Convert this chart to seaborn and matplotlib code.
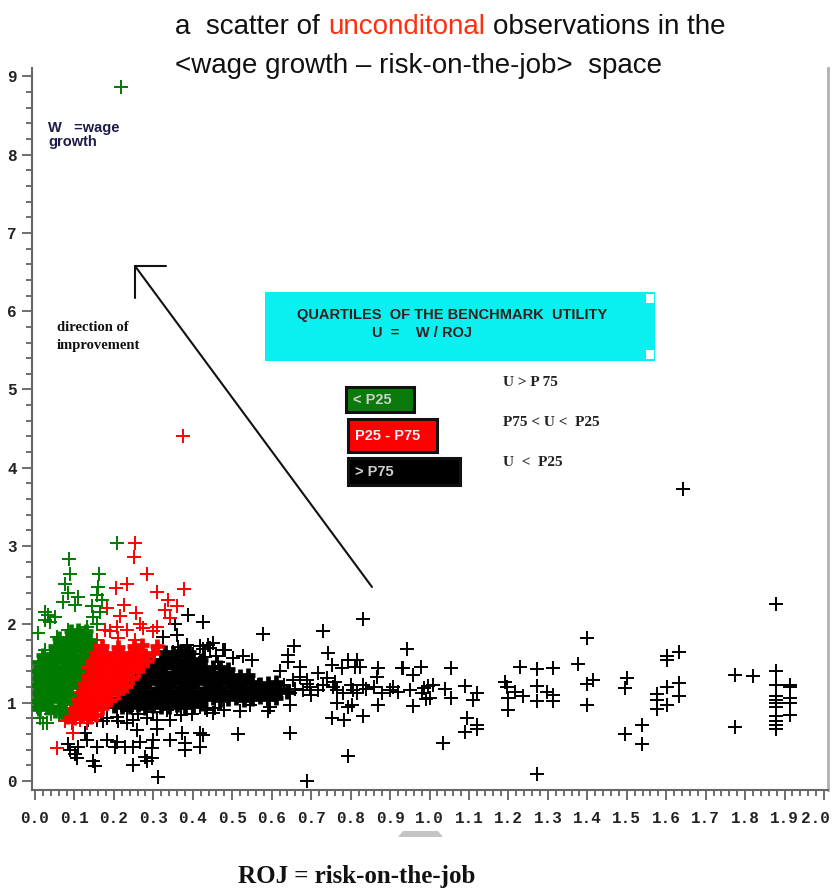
import matplotlib
matplotlib.use('Agg')
import matplotlib.pyplot as plt
import matplotlib.transforms as mtransforms
from matplotlib.patches import Rectangle, Polygon
from matplotlib.lines import Line2D
from matplotlib.ticker import MultipleLocator, FormatStrFormatter
import seaborn as sns

# ---- data (ROJ on x, wage growth on y) ----
# dense part of the U > P75 group (green)
green_core_roj = [0.01, 0.03, 0.05, 0.065,
                  0.0, 0.02, 0.04, 0.06, 0.075,
                  0.01, 0.03, 0.05, 0.07, 0.085,
                  0.0, 0.02, 0.04, 0.06, 0.08, 0.092,
                  0.01, 0.03, 0.05, 0.07, 0.09, 0.10,
                  0.0, 0.02, 0.04, 0.06, 0.08, 0.10, 0.108,
                  0.01, 0.03, 0.05, 0.07, 0.09, 0.11,
                  0.02, 0.04, 0.06, 0.08, 0.10, 0.12,
                  0.05, 0.07, 0.09, 0.11, 0.13,
                  0.06, 0.08, 0.10, 0.12, 0.14,
                  0.09, 0.11, 0.13]
green_core_wage = [0.92, 0.93, 0.90, 0.88,
                   1.02, 1.01, 1.03, 1.02, 1.00,
                   1.12, 1.13, 1.11, 1.12, 1.10,
                   1.22, 1.21, 1.23, 1.22, 1.21, 1.20,
                   1.32, 1.33, 1.31, 1.32, 1.33, 1.30,
                   1.41, 1.42, 1.43, 1.41, 1.42, 1.43, 1.40,
                   1.52, 1.51, 1.53, 1.52, 1.51, 1.52,
                   1.61, 1.62, 1.63, 1.62, 1.61, 1.60,
                   1.72, 1.71, 1.73, 1.72, 1.70,
                   1.82, 1.81, 1.83, 1.82, 1.80,
                   1.92, 1.93, 1.91]
green_roj = [0.218, 0.207, 0.087, 0.089, 0.163, 0.076, 0.160, 0.156, 0.110, 0.084,
             0.072, 0.101, 0.144, 0.169, 0.165, 0.148, 0.025, 0.034, 0.051, 0.025,
             0.038, 0.008, 0.055, 0.084, 0.114, 0.131, 0.156, 0.025, 0.038, 0.013,
             0.030, 0.021, 0.04, 0.06, 0.005]
green_wage = [8.86, 3.04, 2.84, 2.65, 2.65, 2.52, 2.48, 2.38, 2.35, 2.40,
              2.29, 2.25, 2.23, 2.31, 2.16, 2.10, 2.16, 2.12, 2.10, 2.06,
              2.03, 1.89, 1.84, 1.93, 1.84, 1.97, 2.01, 1.67, 1.59, 0.80,
              0.74, 0.74, 0.86, 0.85, 0.95]

# P25 - P75 group (red)
red_core_roj = [0.08, 0.10, 0.12, 0.14, 0.155,
                0.09, 0.11, 0.13, 0.15, 0.17,
                0.10, 0.12, 0.14, 0.16, 0.18, 0.19,
                0.11, 0.13, 0.15, 0.17, 0.19, 0.21,
                0.108, 0.12, 0.14, 0.16, 0.18, 0.20, 0.22, 0.23,
                0.11, 0.13, 0.15, 0.17, 0.19, 0.21, 0.23, 0.245,
                0.12, 0.14, 0.16, 0.18, 0.20, 0.22, 0.24, 0.26,
                0.13, 0.15, 0.17, 0.19, 0.21, 0.23, 0.25, 0.27, 0.283,
                0.14, 0.16, 0.18, 0.20, 0.22, 0.24, 0.26, 0.28, 0.30,
                0.15, 0.17, 0.21, 0.25, 0.27, 0.31]
red_core_wage = [0.82, 0.81, 0.83, 0.82, 0.84,
                 0.92, 0.91, 0.93, 0.92, 0.93,
                 1.02, 1.01, 1.03, 1.02, 1.01, 1.03,
                 1.12, 1.11, 1.13, 1.12, 1.11, 1.13,
                 1.22, 1.21, 1.23, 1.22, 1.21, 1.23, 1.22, 1.21,
                 1.32, 1.31, 1.33, 1.32, 1.31, 1.33, 1.32, 1.31,
                 1.42, 1.41, 1.43, 1.42, 1.41, 1.43, 1.42, 1.41,
                 1.52, 1.51, 1.53, 1.52, 1.51, 1.53, 1.52, 1.51, 1.53,
                 1.62, 1.61, 1.63, 1.62, 1.61, 1.63, 1.62, 1.61, 1.63,
                 1.72, 1.73, 1.71, 1.72, 1.74, 1.72]
red_roj = [0.375, 0.253, 0.251, 0.283, 0.232, 0.205, 0.308, 0.378, 0.226, 0.182,
           0.215, 0.256, 0.338, 0.359, 0.330, 0.342, 0.308, 0.266, 0.300, 0.275,
           0.177, 0.207, 0.232, 0.156, 0.211, 0.253, 0.190, 0.055, 0.097, 0.076,
           0.093, 0.114, 0.131]
red_wage = [4.41, 3.04, 2.86, 2.65, 2.52, 2.47, 2.42, 2.45, 2.25, 2.21,
            2.11, 2.14, 2.31, 2.23, 2.18, 2.08, 1.97, 2.01, 1.91, 1.95,
            1.93, 1.97, 1.93, 1.80, 1.82, 1.80, 1.91, 0.42, 0.61, 0.76,
            0.74, 0.78, 0.74]

# U < P25 group (black)
black_core_roj = [0.20, 0.22, 0.24, 0.26, 0.28, 0.30, 0.32, 0.34, 0.36, 0.38, 0.40, 0.42,
                  0.21, 0.23, 0.25, 0.27, 0.29, 0.31, 0.33, 0.35, 0.37, 0.39, 0.41,
                  0.43, 0.45, 0.47, 0.49, 0.51, 0.53, 0.55, 0.57, 0.59, 0.61,
                  0.22, 0.24, 0.26, 0.28, 0.30, 0.32, 0.34, 0.36, 0.38, 0.40, 0.42,
                  0.44, 0.46, 0.48, 0.50, 0.52, 0.54, 0.56, 0.58, 0.60, 0.62, 0.64,
                  0.25, 0.27, 0.29, 0.31, 0.33, 0.35, 0.37, 0.39, 0.41, 0.43,
                  0.45, 0.47, 0.49, 0.51, 0.53, 0.55, 0.57, 0.59, 0.61,
                  0.26, 0.28, 0.30, 0.32, 0.34, 0.36, 0.38, 0.40,
                  0.42, 0.44, 0.46, 0.48, 0.50, 0.52, 0.54,
                  0.29, 0.31, 0.33, 0.35, 0.37, 0.39, 0.41, 0.43, 0.45, 0.47, 0.49,
                  0.30, 0.32, 0.34, 0.36, 0.38, 0.40, 0.42,
                  0.33, 0.35, 0.37, 0.39]
black_core_wage = [0.96, 0.94, 0.95, 0.97, 0.93, 0.96, 0.95, 0.94, 0.97, 0.95, 0.96, 0.98,
                   1.05, 1.04, 1.06, 1.05, 1.03, 1.06, 1.05, 1.04, 1.06, 1.05, 1.03,
                   1.05, 1.06, 1.04, 1.05, 1.06, 1.04, 1.05, 1.07, 1.05, 1.06,
                   1.15, 1.14, 1.16, 1.15, 1.13, 1.16, 1.15, 1.14, 1.16, 1.15, 1.13,
                   1.15, 1.16, 1.14, 1.15, 1.16, 1.14, 1.15, 1.17, 1.15, 1.16, 1.14,
                   1.25, 1.24, 1.26, 1.25, 1.23, 1.26, 1.25, 1.24, 1.26, 1.25,
                   1.23, 1.25, 1.26, 1.24, 1.25, 1.26, 1.24, 1.25, 1.27,
                   1.35, 1.34, 1.36, 1.35, 1.33, 1.36, 1.35, 1.34,
                   1.36, 1.35, 1.33, 1.35, 1.36, 1.34, 1.35,
                   1.45, 1.44, 1.46, 1.45, 1.43, 1.46, 1.45, 1.44, 1.46, 1.45, 1.43,
                   1.55, 1.54, 1.56, 1.55, 1.53, 1.56, 1.55,
                   1.65, 1.64, 1.66, 1.65]
black_roj = [0.944, 0.934, 0.959, 0.978, 0.957, 0.985, 0.995, 1.01, 0.99, 1.0,
             0.98, 1.033, 1.039, 1.054, 1.054, 1.09, 1.094, 1.09, 1.111, 1.121,
             1.121, 1.121, 1.191, 1.196, 1.2, 1.2, 1.217, 1.236, 1.229, 1.272,
             1.272, 1.272, 1.272, 1.297, 1.314, 1.314, 1.314, 1.377, 1.4, 1.4,
             1.414, 1.4, 1.5, 1.496, 1.496, 1.538, 1.538, 1.576, 1.576, 1.576,
             1.601, 1.601, 1.601, 1.601, 1.633, 1.633, 1.633, 1.643, 1.774, 1.774,
             1.821, 1.878, 1.878, 1.878, 1.878, 1.878, 1.878, 1.878, 1.878, 1.878,
             1.878, 1.878, 1.914, 1.914, 1.914, 1.914, 1.914,
             0.427, 0.579, 0.729, 0.831, 0.657, 0.743, 0.452, 0.427, 0.477, 0.503,
             0.528, 0.549, 0.465, 0.642, 0.642, 0.621, 0.752, 0.777, 0.794, 0.815,
             0.824, 0.811, 0.870, 0.866, 0.870, 0.930, 0.908, 0.9, 0.832, 0.807,
             0.815, 0.803, 0.794, 0.831, 0.752, 0.782, 0.765, 0.794, 0.689, 0.646,
             0.515, 0.427, 0.418, 0.646, 0.591, 0.545, 0.456, 0.431, 0.655, 0.672,
             0.680, 0.697, 0.718, 0.739, 0.756, 0.765, 0.718, 0.672, 0.689, 0.621,
             0.604, 0.646, 0.587, 0.596, 0.545, 0.566, 0.528, 0.63, 0.66, 0.69,
             0.70, 0.73, 0.76, 0.78, 0.80, 0.84, 0.86, 0.88, 0.92, 0.95,
             0.389, 0.359, 0.355, 0.363, 0.351, 0.385, 0.418, 0.439, 0.444, 0.482,
             0.325, 0.40, 0.43, 0.46, 0.38, 0.36,
             0.313, 0.248, 0.283, 0.296, 0.279, 0.152, 0.148, 0.106, 0.101, 0.089,
             0.084, 0.110, 0.131, 0.156, 0.127, 0.182, 0.203, 0.228, 0.249, 0.207,
             0.266, 0.296, 0.300, 0.342, 0.380, 0.380, 0.418, 0.372, 0.342, 0.308,
             0.283, 0.249, 0.232, 0.211, 0.182, 0.156, 0.135, 0.397, 0.435, 0.418,
             0.334, 0.359, 0.258, 0.308, 0.232, 0.173, 0.207, 0.26, 0.30, 0.37,
             0.45, 0.48, 0.52]
black_wage = [1.69, 1.44, 1.35, 1.45, 0.96, 1.19, 1.21, 1.22, 1.05, 1.06,
              1.12, 0.49, 1.18, 1.44, 1.06, 1.21, 0.81, 0.62, 1.03, 1.13,
              0.72, 0.66, 1.27, 1.20, 1.06, 0.91, 1.14, 1.08, 1.45, 1.43,
              1.21, 1.02, 0.09, 1.14, 1.44, 1.10, 1.02, 1.50, 1.82, 1.24,
              1.29, 0.97, 1.31, 1.19, 0.60, 0.72, 0.47, 1.11, 1.03, 0.92,
              1.60, 1.55, 1.20, 0.97, 1.65, 1.25, 1.08, 3.73, 1.36, 0.69,
              1.34, 2.26, 1.40, 1.23, 1.08, 1.03, 0.99, 0.95, 0.83, 0.76,
              0.72, 0.67, 1.23, 1.20, 1.06, 1.00, 0.84,
              2.03, 1.88, 1.91, 2.07, 1.72, 1.64, 1.76, 1.69, 1.67, 1.57,
              1.59, 1.55, 1.52, 1.61, 1.52, 1.40, 1.48, 1.44, 1.55, 1.55,
              1.46, 1.46, 1.44, 1.33, 0.97, 1.44, 1.20, 1.16, 1.23, 1.16,
              1.12, 0.97, 0.95, 0.83, 0.81, 0.78, 0.99, 0.32, 0.00, 0.61,
              0.60, 0.59, 0.44, 0.97, 0.89, 0.97, 0.93, 0.93, 1.29, 1.33,
              1.16, 1.20, 1.16, 1.31, 1.20, 1.16, 1.38, 1.46, 1.29, 1.16,
              1.10, 1.12, 1.03, 0.95, 1.16, 1.23, 1.08, 1.22, 1.18, 1.24,
              1.10, 1.22, 1.27, 1.13, 1.22, 1.18, 1.20, 1.13, 1.14, 1.16,
              2.12, 1.86, 2.01, 1.71, 1.65, 1.74, 1.72, 1.74, 1.70, 1.67,
              1.84, 1.62, 1.58, 1.60, 1.66, 1.58,
              0.05, 0.21, 0.25, 0.29, 0.31, 0.19, 0.25, 0.29, 0.35, 0.40,
              0.47, 0.44, 0.52, 0.44, 0.61, 0.52, 0.44, 0.44, 0.44, 0.50,
              0.50, 0.42, 0.52, 0.52, 0.48, 0.40, 0.61, 0.61, 0.78, 0.78,
              0.80, 0.78, 0.74, 0.76, 0.80, 0.78, 0.78, 0.86, 0.91, 0.95,
              0.91, 0.95, 0.65, 0.67, 0.89, 0.76, 0.82, 0.86, 0.88, 0.84,
              0.87, 0.91, 0.90]

W, H = 832, 891


def fx(px):
    return px / W


def fy(py):
    return 1 - py / H


sns.set_theme(style='white')
plt.rcParams['font.family'] = ['Liberation Sans', 'DejaVu Sans']

fig = plt.figure(figsize=(W / 100, H / 100), dpi=100)
ax = fig.add_axes([fx(32), fy(790), fx(828) - fx(32), fy(68) - fy(790)])

# scatter groups, dense cores drawn with heavier crosses so they fill in
groups = [
    (black_core_roj, black_core_wage, 'black', 3.4, 110),
    (black_roj, black_wage, 'black', 1.4, 95),
    (red_core_roj, red_core_wage, '#ff0000', 3.4, 110),
    (red_roj, red_wage, '#ff0000', 1.4, 95),
    (green_core_roj, green_core_wage, '#007a00', 3.4, 110),
    (green_roj, green_wage, '#007a00', 1.4, 95),
]
for gx, gy, col, lw, size in groups:
    sns.scatterplot(x=gx, y=gy, marker='+', s=size, color=col, linewidth=lw,
                    ax=ax, legend=False, zorder=3)

ax.set_xlim(-0.0076, 2.010)
ax.set_ylim(-0.115, 9.106)
ax.xaxis.set_major_locator(MultipleLocator(0.1))
ax.xaxis.set_minor_locator(MultipleLocator(0.02))
ax.yaxis.set_major_locator(MultipleLocator(1))
ax.yaxis.set_minor_locator(MultipleLocator(0.2))
ax.xaxis.set_major_formatter(FormatStrFormatter('%.1f'))
ax.yaxis.set_major_formatter(FormatStrFormatter('%d'))
ax.tick_params(which='both', direction='out', color='#555555', width=1.2,
               bottom=True, left=True)
ax.tick_params(which='major', length=7, labelsize=11.5, pad=4)
ax.tick_params(which='minor', length=4)
ax.tick_params(axis='x', which='major', pad=8)
for lab in ax.get_xticklabels() + ax.get_yticklabels():
    lab.set_family(['Liberation Mono', 'DejaVu Sans Mono'])
    lab.set_fontweight('bold')
    lab.set_color('#222222')
# last x label is pushed left against 1.9, as in the picture
fig.canvas.draw()
last = [t for t in ax.get_xticklabels() if t.get_text() == '2.0']
for t in last:
    t.set_ha('right')
    t.set_transform(t.get_transform() + mtransforms.ScaledTranslation(6 / 100, 0, fig.dpi_scale_trans))
ax.set_xlabel('')
ax.set_ylabel('')
ax.spines['top'].set_visible(False)
for side in ['left', 'bottom']:
    ax.spines[side].set_color('#666666')
    ax.spines[side].set_linewidth(1.5)
ax.spines['right'].set_color('#b0b0b0')
ax.spines['right'].set_linewidth(2)

# title with the red word
renderer = fig.canvas.get_renderer()


def colored_line(parts, x0, y, size):
    x = x0
    for txt, col in parts:
        t = fig.text(x, y, txt, color=col, fontsize=size, va='center', ha='left')
        bb = t.get_window_extent(renderer)
        x = bb.x1 / fig.bbox.width + size * 0.30 / 72 * 100 / W


colored_line([('a  scatter of', '#111111'), ('unconditonal', '#ff3010'),
              ('observations in the', '#111111')], fx(175), fy(27), 20)
fig.text(fx(175), fy(66), '<wage growth \u2013 risk-on-the-job>  space',
         color='#111111', fontsize=20, va='center', ha='left')

# notes inside the plot
fig.text(fx(48), fy(121), 'W   =wage\ngrowth', fontsize=10.5, fontweight='bold',
         color='#1c1c48', va='top', ha='left', linespacing=1.0)
fig.text(fx(57), fy(321), 'direction of\nimprovement', fontsize=10.5, fontweight='bold',
         family=['Liberation Serif', 'DejaVu Serif'], color='#111111',
         va='top', ha='left', linespacing=1.5)

# arrow with corner head
for (x1, y1), (x2, y2) in [((372, 587), (135, 266)), ((135, 266), (166, 266)),
                           ((135, 266), (135, 298))]:
    fig.add_artist(Line2D([fx(x1), fx(x2)], [fy(y1), fy(y2)], color='#111111', lw=1.5))

# cyan title box
fig.add_artist(Rectangle((fx(265), fy(361)), fx(655) - fx(265), fy(292) - fy(361),
                         facecolor='#0af0f0', edgecolor='none'))
for py in (294, 350):
    fig.add_artist(Rectangle((fx(646), fy(py + 9)), fx(654) - fx(646), fy(py) - fy(py + 9),
                             facecolor='white', edgecolor='none'))
fig.text(fx(452), fy(315), 'QUARTILES  OF THE BENCHMARK  UTILITY', fontsize=10.5,
         fontweight='bold', color='#3a1c1c', ha='center', va='center')
fig.text(fx(372), fy(333), 'U  =    W / ROJ', fontsize=10.5,
         fontweight='bold', color='#3a1c1c', ha='left', va='center')

# legend boxes
boxes = [((346, 387, 414, 412), '#0a7a0a', '< P25', '#d0d0d0'),
         ((348, 419, 437, 452), '#ff0000', 'P25 - P75', '#f0f0ff'),
         ((348, 458, 460, 485), '#000000', '> P75', '#d0d0d0')]
for (x1, y1, x2, y2), col, txt, tcol in boxes:
    fig.add_artist(Rectangle((fx(x1), fy(y2)), fx(x2) - fx(x1), fy(y1) - fy(y2),
                             facecolor=col, edgecolor='#111111', lw=2.2))
    fig.text(fx(x1 + 7), fy((y1 + y2) / 2), txt, fontsize=10.5, fontweight='bold',
             color=tcol, ha='left', va='center')
for py, txt in [(382, 'U > P 75'), (422, 'P75 < U <  P25'), (462, 'U  <  P25')]:
    fig.text(fx(503), fy(py), txt, fontsize=11, fontweight='bold',
             family=['Liberation Serif', 'DejaVu Serif'], color='#222222',
             ha='left', va='center')

# small grey mark under the axis
fig.add_artist(Polygon([(fx(398), fy(837)), (fx(443), fy(837)), (fx(438), fy(831)),
                        (fx(403), fy(831))], closed=True, facecolor='#c4c4c4',
                       edgecolor='none'))

fig.text(fx(357), fy(877), 'ROJ = risk-on-the-job', fontsize=18, fontweight='bold',
         family=['Liberation Serif', 'DejaVu Serif'], color='#111111',
         ha='center', va='center')

fig.savefig('out.png', dpi=100)
